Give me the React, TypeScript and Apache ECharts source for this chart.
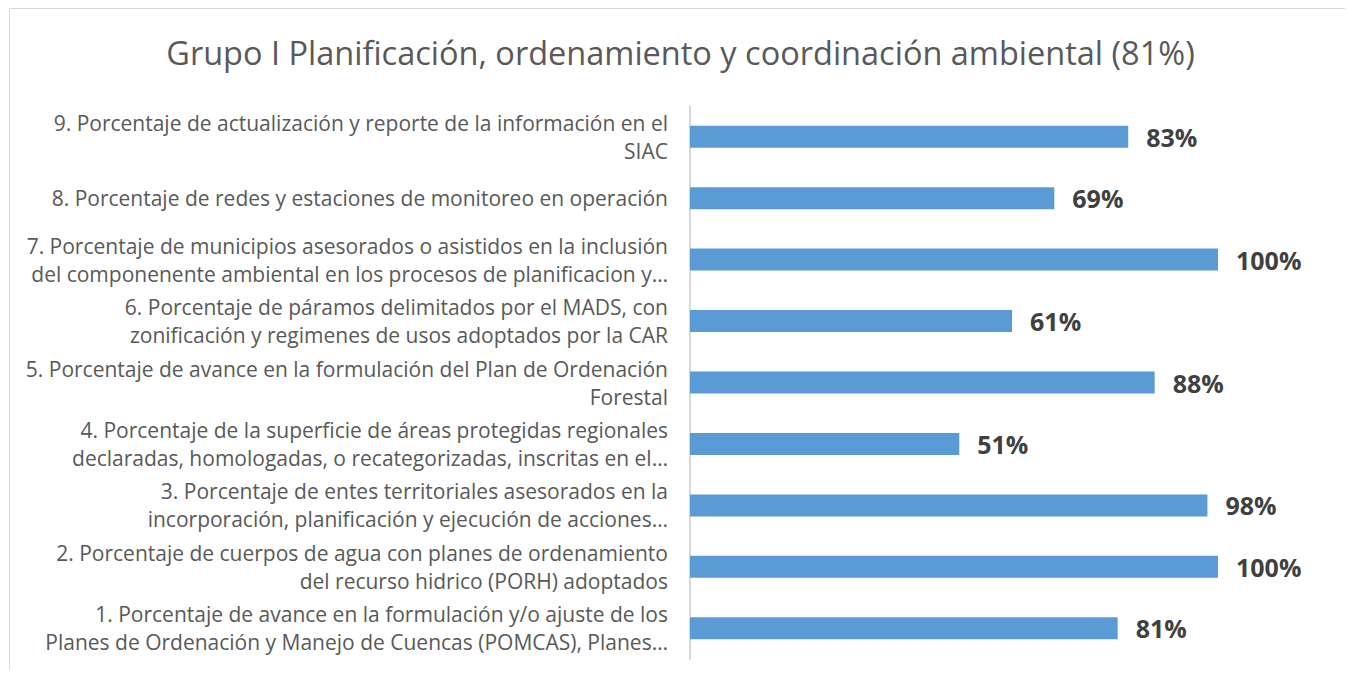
import React, { useEffect, useRef } from "react";
import * as echarts from "echarts";

const title = "Grupo I Planificación, ordenamiento y coordinación ambiental (81%)";

const categories: string[] = [
  "1. Porcentaje de avance en la formulación y/o ajuste de los\nPlanes de Ordenación y Manejo de Cuencas (POMCAS), Planes…",
  "2. Porcentaje de cuerpos de agua con planes de ordenamiento\ndel recurso hidrico (PORH) adoptados",
  "3. Porcentaje de entes territoriales asesorados en la\nincorporación, planificación y ejecución de acciones…",
  "4. Porcentaje de la superficie de áreas protegidas regionales\ndeclaradas, homologadas, o recategorizadas, inscritas en el…",
  "5. Porcentaje de avance en la formulación del Plan de Ordenación\nForestal",
  "6. Porcentaje de páramos delimitados por el MADS, con\nzonificación y regimenes de usos adoptados por la CAR",
  "7. Porcentaje de municipios asesorados o asistidos en la inclusión\ndel componenente ambiental en los procesos de planificacion y…",
  "8. Porcentaje de redes y estaciones de monitoreo en operación",
  "9. Porcentaje de actualización y reporte de la información en el\nSIAC",
];

const values: number[] = [81, 100, 98, 51, 88, 61, 100, 69, 83];

const FONT = "'Open Sans', 'Noto Sans', sans-serif";

export default function App() {
  const ref = useRef<HTMLDivElement>(null);
  useEffect(() => {
    if (!ref.current) return;
    const chart = echarts.init(ref.current, undefined, { renderer: "svg" });
    chart.setOption({
      animation: false,
      backgroundColor: "#ffffff",
      graphic: [
        {
          type: "rect",
          shape: { x: 1.5, y: 0.5, width: 1343, height: 720 },
          style: { fill: "none", stroke: "#d9d9d9", lineWidth: 1 },
          silent: true,
        },
      ],
      title: {
        text: title,
        left: "center",
        top: 23,
        textStyle: {
          fontFamily: FONT,
          fontSize: 32.5,
          fontWeight: "normal",
          color: "#595959",
        },
      },
      grid: { left: 682, right: 135, top: 98, bottom: 11, containLabel: false },
      xAxis: {
        type: "value",
        min: 0,
        max: 100,
        show: false,
        splitLine: { show: false },
      },
      yAxis: {
        type: "category",
        data: categories,
        axisTick: { show: false },
        axisLine: { show: true, lineStyle: { color: "#d9d9d9", width: 2 } },
        axisLabel: {
          margin: 22,
          align: "right",
          fontFamily: FONT,
          fontSize: 21,
          lineHeight: 28,
          color: "#595959",
        },
      },
      series: [
        {
          type: "bar",
          data: values,
          barWidth: 22,
          itemStyle: { color: "#5b9bd5" },
          label: {
            show: true,
            position: "right",
            distance: 18,
            formatter: "{c}%",
            fontFamily: FONT,
            fontSize: 25,
            fontWeight: "bold",
            color: "#404040",
          },
        },
      ],
    });
    return () => chart.dispose();
  }, []);
  return (
    <div style={{ width: 1345, height: 662, overflow: "hidden" }}>
      <div ref={ref} style={{ width: 1345, height: 662 }} />
    </div>
  );
}
